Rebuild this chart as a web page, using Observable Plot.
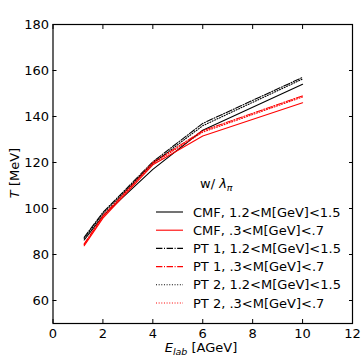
<!DOCTYPE html>
<html>
<head>
<meta charset="utf-8">
<script src="https://cdn.jsdelivr.net/npm/d3@7"></script>
<script src="https://cdn.jsdelivr.net/npm/@observablehq/plot@0.6"></script>
<style>
  html, body { margin: 0; padding: 0; background: #fff; }
  #chart { width: 361px; height: 356px; }
  svg { font-family: "DejaVu Sans", sans-serif; }
</style>
</head>
<body>
<div id="chart"></div>
<script>
// Data
const elab = [1.25, 2, 4, 6, 10];
const cmfHigh = [86.3, 96.8, 117, 134, 154];
const cmfLow  = [83.8, 95.8, 119, 131.5, 146];
const pt1High = [87.5, 98.3, 120.3, 137, 157];
const pt1Low  = [84.6, 96.8, 120, 133.8, 149];
const pt2High = [87.0, 97.8, 119.6, 136, 156.3];
const pt2Low  = [84.3, 96.5, 119.5, 133.2, 148.5];

const xTicks = [0, 2, 4, 6, 8, 10, 12];
const yTicks = [60, 80, 100, 120, 140, 160, 180];

const seriesNames = [
  "CMF, 1.2<M[GeV]<1.5",
  "CMF, .3<M[GeV]<.7",
  "PT 1, 1.2<M[GeV]<1.5",
  "PT 1, .3<M[GeV]<.7",
  "PT 2, 1.2<M[GeV]<1.5",
  "PT 2, .3<M[GeV]<.7"
];
const seriesValues = [cmfHigh, cmfLow, pt1High, pt1Low, pt2High, pt2Low];
const seriesColors = ["#000000", "#ff0000", "#000000", "#ff0000", "#000000", "#ff0000"];
const seriesDash = [null, null, "6.4,1.6,1,1.6", "6.4,1.6,1,1.6", "1,1.65", "1,1.65"];

const rows = seriesNames.map((name, i) => elab.map((x, j) => ({series: name, x, T: seriesValues[i][j]})));

const W = 361, H = 356;
const mL = 52.5, mR = 9, mT = 24, mB = 33;

const marks = rows.map((data, i) =>
  Plot.line(data, {x: "x", y: "T", stroke: seriesColors[i], strokeWidth: 1.1,
    strokeDasharray: seriesDash[i] || undefined})
);

const plot = Plot.plot({
  width: W, height: H,
  marginLeft: mL, marginRight: mR, marginTop: mT, marginBottom: mB,
  style: {fontFamily: "DejaVu Sans, sans-serif", fontSize: "13px", color: "#000", background: "#fff"},
  x: {domain: [0, 12], ticks: xTicks, label: null},
  y: {domain: [50, 180], ticks: yTicks, label: null},
  marks: [
    ...marks,
    Plot.axisX({anchor: "bottom", ticks: xTicks, tickSize: 0, tickPadding: 5, fontSize: 13, label: null}),
    Plot.axisX({anchor: "bottom", ticks: xTicks, tickSize: -4, tickFormat: () => "", label: null}),
    Plot.axisX({anchor: "top", ticks: xTicks, tickSize: -4, tickFormat: () => "", label: null}),
    Plot.axisY({anchor: "left", ticks: yTicks, tickSize: 0, tickPadding: 4, fontSize: 13, label: null}),
    Plot.axisY({anchor: "left", ticks: yTicks, tickSize: -4, tickFormat: () => "", label: null}),
    Plot.axisY({anchor: "right", ticks: yTicks, tickSize: -4, tickFormat: () => "", label: null}),
    Plot.frame({stroke: "#000", strokeWidth: 1.2})
  ]
});

document.getElementById("chart").appendChild(plot);

// Axis titles and legend as real text
const svg = d3.select(plot);
const ff = "DejaVu Sans, sans-serif";

const xl = svg.append("text").attr("x", 201).attr("y", 352).attr("text-anchor", "middle")
  .attr("font-size", 13).attr("font-family", ff).attr("fill", "#000");
xl.append("tspan").attr("font-style", "italic").text("E");
xl.append("tspan").attr("font-style", "italic").attr("font-size", 9.5).attr("dy", 3).text("lab");
xl.append("tspan").attr("dy", -3).text(" [AGeV]");

const yl = svg.append("text").attr("transform", "translate(19,173) rotate(-90)").attr("text-anchor", "middle")
  .attr("font-size", 13).attr("font-family", ff).attr("fill", "#000");
yl.append("tspan").attr("font-style", "italic").text("T");
yl.append("tspan").text(" [MeV]");

const lg = svg.append("g").attr("font-family", ff).attr("font-size", 13).attr("fill", "#000")
  .attr("text-anchor", "start");
const tt = lg.append("text").attr("x", 200).attr("y", 188);
tt.append("tspan").text("w/ ");
tt.append("tspan").attr("font-style", "italic").text("λ");
tt.append("tspan").attr("font-style", "italic").attr("font-size", 9.5).attr("dy", 3).text("π");

seriesNames.forEach((name, i) => {
  const y = 212 + i * 18.2;
  lg.append("line").attr("x1", 156).attr("x2", 183).attr("y1", y).attr("y2", y)
    .attr("stroke", seriesColors[i]).attr("stroke-width", 1.1)
    .attr("stroke-dasharray", seriesDash[i]);
  lg.append("text").attr("x", 193).attr("y", y).attr("dy", "0.35em").text(name);
});
</script>
</body>
</html>
